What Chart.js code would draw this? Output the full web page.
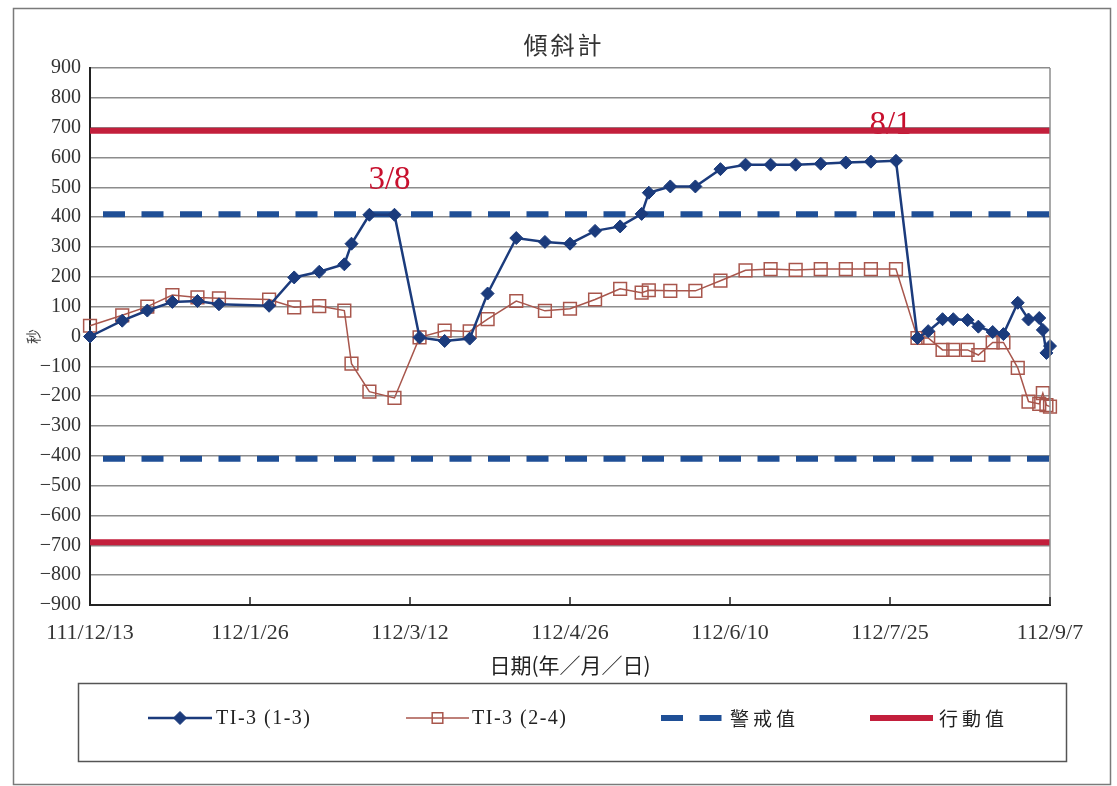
<!DOCTYPE html>
<html>
<head>
<meta charset="utf-8">
<title>傾斜計</title>
<script src="https://cdn.jsdelivr.net/npm/chart.js@4.4.0/dist/chart.umd.min.js"></script>
<style>
  html, body { margin: 0; padding: 0; background: #fff; }
  #wrap { width: 1117px; height: 786px; }
</style>
</head>
<body>
<div id="wrap"><canvas id="tiltChart" width="1117" height="786"></canvas></div>
<script>
// 量測日期 (民國年/月/日)
const measureDates = [
  "111/12/13", "111/12/22", "111/12/29", "112/1/5", "112/1/12", "112/1/18",
  "112/2/1", "112/2/8", "112/2/15", "112/2/22", "112/2/24", "112/3/1",
  "112/3/8", "112/3/15", "112/3/22", "112/3/29", "112/4/3", "112/4/11",
  "112/4/19", "112/4/26", "112/5/3", "112/5/10", "112/5/16", "112/5/18",
  "112/5/24", "112/5/31", "112/6/7", "112/6/14", "112/6/21", "112/6/28",
  "112/7/5", "112/7/12", "112/7/19", "112/7/26", "112/8/1", "112/8/4",
  "112/8/8", "112/8/11", "112/8/15", "112/8/18", "112/8/22", "112/8/25",
  "112/8/29", "112/9/1", "112/9/4", "112/9/5", "112/9/6", "112/9/7"
];

// TI-3 (1-3) 讀數 (秒)
const ti3_13 = [
  0, 53, 87, 116, 119, 108, 103, 198, 217, 242, 311, 408,
  408, -3, -15, -7, 144, 330, 317, 311, 354, 369, 411, 482,
  503, 503, 561, 576, 576, 576, 579, 583, 586, 589, -5, 18,
  58, 58, 55, 33, 15, 8, 113, 57, 62, 22, -55, -32
];

// TI-3 (2-4) 讀數 (秒)
const ti3_24 = [
  36, 71, 100, 139, 131, 128, 124, 98, 102, 87, -91, -185,
  -206, -3, 20, 17, 58, 119, 86, 93, 124, 160, 147, 155,
  153, 153, 187, 222, 226, 223, 226, 226, 226, 226, -5, -5,
  -45, -45, -45, -62, -20, -20, -105, -218, -226, -190, -230, -235
];

// 管理值
const alertValue = 410;   // 警戒值
const actionValue = 690;  // 行動值

// 座標軸
const xTickLabels = ["111/12/13", "112/1/26", "112/3/12", "112/4/26", "112/6/10", "112/7/25", "112/9/7"];
const yMin = -900;
const yMax = 900;
const yStep = 100;

// 民國日期 -> 距 111/12/13 的天數
const day0 = Date.UTC(2022, 11, 13);
function rocToDay(s) {
  const [y, m, d] = s.split("/").map(Number);
  return (Date.UTC(y + 1911, m - 1, d) - day0) / 86400000;
}

const xMin = rocToDay(xTickLabels[0]);
const xMax = rocToDay(xTickLabels[xTickLabels.length - 1]);

const toPoints = values => values.map((v, i) => ({ x: rocToDay(measureDates[i]), y: v }));

// 上下兩條管理線放在同一個 dataset，中間用 null 斷開
const limitPoints = v => [
  { x: xMin, y: v }, { x: xMax, y: v },
  { x: xMax, y: null },
  { x: xMin, y: -v }, { x: xMax, y: -v }
];

const NAVY = "#1b3b7c";
const BROWN = "#a8564c";
const DASH_BLUE = "#1f4f96";
const RED = "#c31f3c";
const SERIF = '"Liberation Serif", "DejaVu Serif", serif';
const CJK = '"Noto Sans CJK TC", sans-serif';

// 白底、標題與外框
const framePlugin = {
  id: "frame",
  beforeDraw(chart) {
    const ctx = chart.ctx;
    ctx.save();
    ctx.fillStyle = "#fff";
    ctx.fillRect(0, 0, chart.width, chart.height);
    ctx.fillStyle = "#333";
    ctx.font = "24px " + CJK;
    ctx.letterSpacing = "3px";
    ctx.textAlign = "center";
    ctx.textBaseline = "middle";
    ctx.fillText("傾斜計", 564, 45);
    ctx.restore();
  },
  afterDraw(chart) {
    const { ctx, chartArea: a } = chart;
    ctx.save();
    ctx.strokeStyle = "#7a7a7a";
    ctx.lineWidth = 1.5;
    ctx.strokeRect(13.5, 8.5, 1097, 776);
    // 圖區右框
    ctx.strokeStyle = "#8c8c8c";
    ctx.beginPath();
    ctx.moveTo(a.right, a.top);
    ctx.lineTo(a.right, a.bottom);
    ctx.stroke();
    // X 軸內側刻度
    const xs = chart.scales.x;
    ctx.strokeStyle = "#222";
    ctx.lineWidth = 1.5;
    xs.ticks.forEach(t => {
      const px = xs.getPixelForValue(t.value);
      ctx.beginPath();
      ctx.moveTo(px, a.bottom);
      ctx.lineTo(px, a.bottom - 8);
      ctx.stroke();
    });
    ctx.restore();
  }
};

// 日期標註 (畫在管理線下方)
const notePlugin = {
  id: "notes",
  beforeDatasetsDraw(chart) {
    const { ctx, scales: { x, y } } = chart;
    ctx.save();
    ctx.font = "33px " + SERIF;
    ctx.fillStyle = "#c8102e";
    ctx.textAlign = "center";
    ctx.textBaseline = "alphabetic";
    ctx.fillText("3/8", x.getPixelForValue(rocToDay("112/3/8")) - 5, y.getPixelForValue(495));
    ctx.fillText("8/1", x.getPixelForValue(rocToDay("112/8/1")) - 27, y.getPixelForValue(680));
    ctx.restore();
  }
};

// 圖例方框
const legendPlugin = {
  id: "boxLegend",
  afterDraw(chart) {
    const ctx = chart.ctx;
    const ds = chart.data.datasets;
    const cy = 718;
    ctx.save();
    ctx.strokeStyle = "#555";
    ctx.lineWidth = 1.5;
    ctx.strokeRect(78.5, 683.5, 988, 78);

    const items = [
      { d: ds[0], x1: 148, x2: 212, tx: 216, r: 6.5, font: "20px " + SERIF, ls: "1.5px" },
      { d: ds[1], x1: 406, x2: 469, tx: 472, r: 7.5, font: "20px " + SERIF, ls: "1.5px" },
      { d: ds[2], x1: 661, x2: 723, tx: 730, r: 0, font: "19px " + CJK, ls: "4px" },
      { d: ds[3], x1: 870, x2: 933, tx: 939, r: 0, font: "19px " + CJK, ls: "4px" }
    ];
    items.forEach(it => {
      const d = it.d;
      ctx.save();
      ctx.strokeStyle = d.borderColor;
      ctx.lineWidth = d.borderWidth;
      ctx.setLineDash(d.borderDash || []);
      ctx.beginPath();
      ctx.moveTo(it.x1, cy);
      ctx.lineTo(it.x2, cy);
      ctx.stroke();
      ctx.restore();
      if (it.r) {
        ctx.save();
        ctx.strokeStyle = d.pointBorderColor;
        ctx.fillStyle = d.pointBackgroundColor;
        ctx.lineWidth = d.pointBorderWidth;
        Chart.helpers.drawPoint(ctx, {
          pointStyle: d.pointStyle,
          radius: it.r,
          rotation: 0,
          borderWidth: d.pointBorderWidth
        }, (it.x1 + it.x2) / 2, cy);
        ctx.restore();
      }
      ctx.fillStyle = "#222";
      ctx.font = it.font;
      ctx.letterSpacing = it.ls;
      ctx.textAlign = "left";
      ctx.textBaseline = "middle";
      ctx.fillText(d.label, it.tx, cy + 1);
    });
    ctx.restore();
  }
};

new Chart(document.getElementById("tiltChart"), {
  type: "line",
  data: {
    datasets: [
      {
        label: "TI-3 (1-3)",
        data: toPoints(ti3_13),
        borderColor: NAVY,
        borderWidth: 2.5,
        pointStyle: "rectRot",
        pointRadius: 6.5,
        pointBackgroundColor: NAVY,
        pointBorderColor: NAVY,
        pointBorderWidth: 1,
        tension: 0,
        clip: false,
        order: 1
      },
      {
        label: "TI-3 (2-4)",
        data: toPoints(ti3_24),
        borderColor: BROWN,
        borderWidth: 1.5,
        pointStyle: "rect",
        pointRadius: 9,
        pointBackgroundColor: "rgba(0,0,0,0)",
        pointBorderColor: BROWN,
        pointBorderWidth: 1.5,
        tension: 0,
        clip: false,
        order: 2
      },
      {
        label: "警戒值",
        data: limitPoints(alertValue),
        borderColor: DASH_BLUE,
        borderWidth: 6,
        borderDash: [22, 16.5],
        borderDashOffset: 25.5,
        borderCapStyle: "butt",
        pointRadius: 0,
        spanGaps: false,
        order: 3
      },
      {
        label: "行動值",
        data: limitPoints(actionValue),
        borderColor: RED,
        borderWidth: 6,
        pointRadius: 0,
        spanGaps: false,
        order: 4
      }
    ]
  },
  options: {
    responsive: false,
    animation: false,
    layout: { padding: { left: 20, right: 67, top: 68, bottom: 105 } },
    plugins: {
      legend: { display: false },
      tooltip: { enabled: false },
      title: { display: false }
    },
    scales: {
      x: {
        type: "linear",
        min: xMin,
        max: xMax,
        afterBuildTicks: scale => {
          const n = xTickLabels.length;
          scale.ticks = xTickLabels.map((_, i) => ({ value: xMin + i * (xMax - xMin) / (n - 1) }));
        },
        afterFit: scale => { scale.height = 76; },
        grid: { display: false, drawTicks: false },
        border: { color: "#222", width: 2 },
        ticks: {
          autoSkip: false,
          maxRotation: 0,
          padding: 15,
          color: "#333",
          font: { family: SERIF, size: 22 },
          callback: (v, i) => xTickLabels[i]
        },
        title: {
          display: true,
          text: "日期(年／月／日)",
          color: "#222",
          font: { family: CJK, size: 21 },
          padding: { top: 0, bottom: 3 }
        }
      },
      y: {
        min: yMin,
        max: yMax,
        afterFit: scale => { scale.width = 70; },
        grid: { color: "#8c8c8c", lineWidth: 1.5, drawTicks: false },
        border: { color: "#222", width: 2 },
        ticks: {
          stepSize: yStep,
          padding: 9,
          color: "#333",
          font: { family: SERIF, size: 20 },
          callback: v => String(v).replace("-", "\u2212")
        },
        title: {
          display: true,
          text: "秒",
          color: "#444",
          font: { family: CJK, size: 15 },
          padding: 4
        }
      }
    }
  },
  plugins: [framePlugin, notePlugin, legendPlugin]
});
</script>
</body>
</html>
